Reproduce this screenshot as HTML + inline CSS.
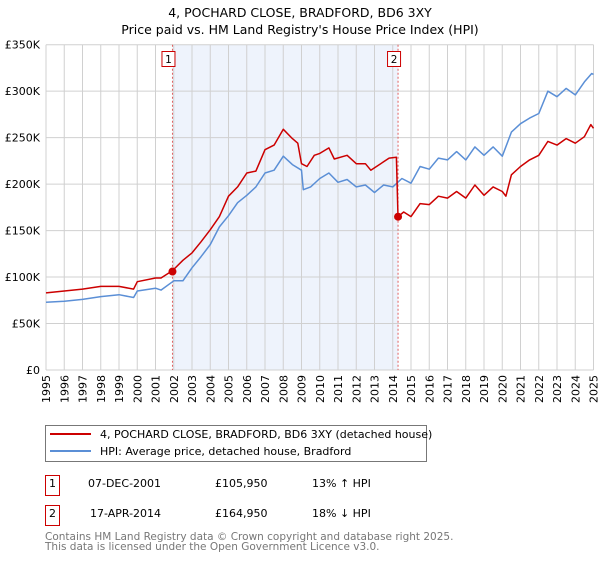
<!DOCTYPE html>
<html><head><meta charset="utf-8"><style>
body{margin:0;background:#fff;font-family:"Liberation Sans","DejaVu Sans",sans-serif;}
svg text{font-family:"DejaVu Sans","Liberation Sans",sans-serif;}
</style></head><body>
<svg id="chart" width="600" height="560" viewBox="0 0 600 560">
<text x="300" y="17" text-anchor="middle" font-size="12.5" fill="#000">4, POCHARD CLOSE, BRADFORD, BD6 3XY</text>
<text x="300" y="34" text-anchor="middle" font-size="12.5" fill="#000">Price paid vs. HM Land Registry's House Price Index (HPI)</text>
<g id="plot"></g>
<g>
<rect x="45.5" y="425.5" width="381" height="36" fill="#fff" stroke="#777"/>
<line x1="50" y1="434" x2="91" y2="434" stroke="#cc0000" stroke-width="2"/>
<text x="100" y="438" font-size="11">4, POCHARD CLOSE, BRADFORD, BD6 3XY (detached house)</text>
<line x1="50" y1="451" x2="91" y2="451" stroke="#5b8fd6" stroke-width="2"/>
<text x="100" y="455" font-size="11">HPI: Average price, detached house, Bradford</text>
</g>
<g font-size="11">
<rect x="45.5" y="475.5" width="14" height="20" fill="#fff" stroke="#cc0000"/>
<text x="52.5" y="487" text-anchor="middle">1</text>
<text x="88" y="487">07-DEC-2001</text>
<text x="215" y="487">£105,950</text>
<text x="312" y="487">13% ↑ HPI</text>
<rect x="45.5" y="505.5" width="14" height="20" fill="#fff" stroke="#cc0000"/>
<text x="52.5" y="517" text-anchor="middle">2</text>
<text x="90" y="517">17-APR-2014</text>
<text x="215" y="517">£164,950</text>
<text x="312" y="517">18% ↓ HPI</text>
</g>
<text x="45" y="540" font-size="10.5" fill="#777">Contains HM Land Registry data © Crown copyright and database right 2025.</text>
<text x="45" y="550" font-size="10.5" fill="#777">This data is licensed under the Open Government Licence v3.0.</text>
</svg>
<script>
const yTicks=[0,50,100,150,200,250,300,350];
const yTickLabels=["£0","£50K","£100K","£150K","£200K","£250K","£300K","£350K"];
const years=[1995,1996,1997,1998,1999,2000,2001,2002,2003,2004,2005,2006,2007,2008,2009,2010,2011,2012,2013,2014,2015,2016,2017,2018,2019,2020,2021,2022,2023,2024,2025];
const hpiT=[1995,1996,1997,1998,1999,1999.8,2000,2001,2001.3,2002,2002.5,2003,2003.5,2004,2004.5,2005,2005.5,2006,2006.5,2007,2007.5,2008,2008.5,2009,2009.1,2009.5,2010,2010.5,2011,2011.5,2012,2012.5,2013,2013.5,2014,2014.5,2015,2015.5,2016,2016.5,2017,2017.5,2018,2018.5,2019,2019.5,2020,2020.5,2021,2021.5,2022,2022.5,2023,2023.5,2024,2024.5,2024.9,2025];
const hpiV=[73,74,76,79,81,78,85,88,86,96,96,110,122,135,154,166,180,188,197,212,215,230,221,215,194,197,206,212,202,205,197,199,191,199,197,206,201,219,216,228,226,235,226,240,231,240,230,256,265,271,276,300,294,303,296,310,319,318];
const propT=[1995,1996,1997,1998,1999,1999.8,2000,2001,2001.3,2001.93,2002.5,2003,2003.5,2004,2004.5,2005,2005.5,2006,2006.5,2007,2007.5,2008,2008.5,2008.8,2009,2009.3,2009.7,2010,2010.5,2010.8,2011.5,2012,2012.5,2012.8,2013.5,2013.8,2014.2,2014.29,2014.6,2015,2015.5,2016,2016.5,2017,2017.5,2018,2018.5,2019,2019.5,2020,2020.2,2020.5,2021,2021.5,2022,2022.5,2023,2023.5,2024,2024.5,2024.85,2025];
const propV=[83,85,87,90,90,87,95,99,99,107,118,126,138,151,165,187,197,212,214,237,242,259,249,244,222,219,231,233,239,227,231,222,222,215,224,228,229,164.95,170,165,179,178,187,185,192,185,199,188,197,192,187,210,219,226,231,246,242,249,244,251,264,260];
const saleT=[2001.93,2014.29];
const saleV=[105.95,164.95];
const saleLabels=["1","2"];

const X0=46,X1=593.5,Y0=370,Y1=44.7;
const x=t=>X0+(t-1995)/30*(X1-X0);
const y=v=>Y0-v/350*(Y0-Y1);
const NS="http://www.w3.org/2000/svg";
const g=document.getElementById('plot');
function mk(tag,attrs,parent){const e=document.createElementNS(NS,tag);for(const k in attrs)e.setAttribute(k,attrs[k]);(parent||g).appendChild(e);return e;}

const shade=mk('rect',{x:x(saleT[0]),y:Y1,width:x(saleT[1])-x(saleT[0]),height:Y0-Y1,fill:'#eef3fc'});



years.forEach(yr=>{
 const l=mk('line',{x1:x(yr),x2:x(yr),y1:Y1,y2:Y0,stroke:'#d0d0d0','stroke-width':1});
 
 
 const t=mk('text',{x:0,y:0,'font-size':11,'text-anchor':'end',transform:`translate(${x(yr)+4},${Y0+5}) rotate(-90)`});
 t.textContent=yr;
 
 
});
yTicks.forEach((v,i)=>{
 const l=mk('line',{x1:X0,x2:X1,y1:y(v),y2:y(v),stroke:'#d0d0d0','stroke-width':1});
 
 
 const t=mk('text',{x:X0-6,y:y(v)+4,'font-size':11,'text-anchor':'end'});
 t.textContent=yTickLabels[i];
 
 
});

saleT.forEach((t,i)=>{
 const l=mk('line',{x1:x(t),x2:x(t),y1:Y1,y2:Y0,stroke:'#e06060','stroke-width':1,'stroke-dasharray':'2,2'});
 
 
 const r=mk('rect',{x:x(t)-10.5,y:51.5,width:13,height:15,fill:'#fff',stroke:'#cc0000'});
 
 
 const tx=mk('text',{x:x(t)-4,y:63,'font-size':10.5,'text-anchor':'middle'});
 tx.textContent=saleLabels[i];
 
 
});

function line(ts,vs,color,name){
 const d=ts.map((t,i)=>(i?'L':'M')+x(t).toFixed(1)+','+y(vs[i]).toFixed(1)).join('');
 const p=mk('path',{d:d,fill:'none',stroke:color,'stroke-width':1.5,'stroke-linejoin':'round'});
 
 
}
line(hpiT,hpiV,'#5b8fd6','hpi-line');
line(propT,propV,'#cc0000','property-line');
saleT.forEach((t,i)=>{
 const c=mk('circle',{cx:x(t),cy:y(saleV[i]),r:4,fill:'#cc0000'});
 
 
});
</script>
</body></html>
